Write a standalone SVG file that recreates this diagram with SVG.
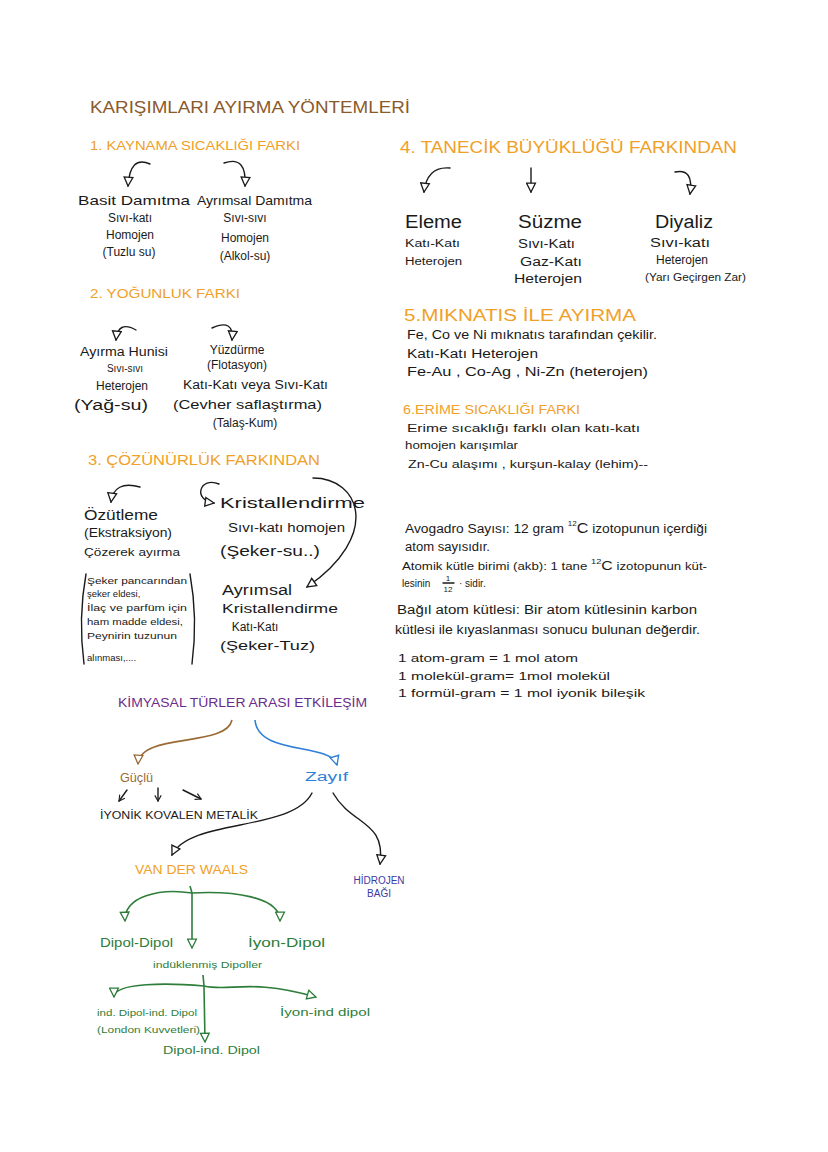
<svg xmlns="http://www.w3.org/2000/svg" width="828" height="1152" viewBox="0 0 828 1152">
<style>
text{font-family:"Liberation Sans","DejaVu Sans",sans-serif;fill:#1a1a1a;}
.t{fill:#8B5A2B;font-size:17px;}
.h{fill:#F0A028;}
.k{font-size:12px;}
.s{font-size:10px;}
.p{fill:#6B2D8C;font-size:12px;}
.b{fill:#2F7FD8;}
.g{fill:#2E7D3A;}
.br{fill:#9A6A35;}
.hb{fill:#3B3BA0;}
.c{fill:none;stroke:#1a1a1a;stroke-width:1.4;stroke-linecap:round;}
.cb{fill:none;stroke:#9A6A35;stroke-width:1.6;}
.cu{fill:none;stroke:#2F7FD8;stroke-width:1.6;}
.cg{fill:none;stroke:#2E7D3A;stroke-width:1.6;}
</style>
<defs>
<marker id="mk" viewBox="0 0 10 10" refX="9" refY="5" markerWidth="11" markerHeight="11" markerUnits="userSpaceOnUse" orient="auto"><path d="M1,1 L9,5 L1,9 Z" fill="#fff" stroke="#1a1a1a" stroke-width="1.2"/></marker>
<marker id="mb" viewBox="0 0 10 10" refX="9" refY="5" markerWidth="11" markerHeight="11" markerUnits="userSpaceOnUse" orient="auto"><path d="M1,1 L9,5 L1,9 Z" fill="#fff" stroke="#9A6A35" stroke-width="1.2"/></marker>
<marker id="mu" viewBox="0 0 10 10" refX="9" refY="5" markerWidth="11" markerHeight="11" markerUnits="userSpaceOnUse" orient="auto"><path d="M1,1 L9,5 L1,9 Z" fill="#fff" stroke="#2F7FD8" stroke-width="1.2"/></marker>
<marker id="mg" viewBox="0 0 10 10" refX="9" refY="5" markerWidth="11" markerHeight="11" markerUnits="userSpaceOnUse" orient="auto"><path d="M1,1 L9,5 L1,9 Z" fill="#fff" stroke="#2E7D3A" stroke-width="1.2"/></marker>
<marker id="mv" viewBox="0 0 10 10" refX="9" refY="5" markerWidth="8" markerHeight="8" markerUnits="userSpaceOnUse" orient="auto"><path d="M2,1 L9,5 L2,9" fill="none" stroke="#1a1a1a" stroke-width="1.4"/></marker>
</defs>
<rect width="828" height="1152" fill="#fff"/>

<g id="title"><text class="t" x="90" y="113" textLength="320" lengthAdjust="spacingAndGlyphs">KARIŞIMLARI AYIRMA YÖNTEMLERİ</text></g>

<g id="sec1">
<text class="h" x="90" y="150" font-size="13" textLength="210" lengthAdjust="spacingAndGlyphs">1. KAYNAMA SICAKLIĞI FARKI</text>
<g id="basit"><text x="78" y="205" font-size="13" textLength="112" lengthAdjust="spacingAndGlyphs">Basit Damıtma</text>
<text class="k" x="130" y="222" text-anchor="middle">Sıvı-katı</text>
<text class="k" x="130" y="239" text-anchor="middle">Homojen</text>
<text class="k" x="129" y="256" text-anchor="middle">(Tuzlu su)</text></g>
<g id="ayrimsal-dam"><text x="197" y="205" font-size="13" textLength="115" lengthAdjust="spacingAndGlyphs">Ayrımsal Damıtma</text>
<text class="k" x="245" y="222" text-anchor="middle">Sıvı-sıvı</text>
<text class="k" x="245" y="242" text-anchor="middle">Homojen</text>
<text class="k" x="245" y="260" text-anchor="middle">(Alkol-su)</text></g>
</g>

<g id="sec2">
<text class="h" x="90" y="298" font-size="13" textLength="150" lengthAdjust="spacingAndGlyphs">2. YOĞUNLUK FARKI</text>
<g id="huni"><text class="k" x="80" y="356" textLength="88" lengthAdjust="spacingAndGlyphs">Ayırma Hunisi</text>
<text class="s" x="125" y="372" text-anchor="middle">Sıvı-sıvı</text>
<text class="k" x="122" y="390" text-anchor="middle">Heterojen</text>
<text x="74" y="410" font-size="14" textLength="74" lengthAdjust="spacingAndGlyphs">(Yağ-su)</text></g>
<g id="yuzdurme"><text class="k" x="237" y="354" text-anchor="middle">Yüzdürme</text>
<text class="k" x="237" y="369" text-anchor="middle">(Flotasyon)</text>
<text class="k" x="183" y="389" textLength="145" lengthAdjust="spacingAndGlyphs">Katı-Katı veya Sıvı-Katı</text>
<text x="173" y="409" font-size="13" textLength="149" lengthAdjust="spacingAndGlyphs">(Cevher saflaştırma)</text>
<text class="k" x="245" y="427" text-anchor="middle">(Talaş-Kum)</text></g>
</g>

<g id="sec3">
<text class="h" x="88" y="465" font-size="15" textLength="232" lengthAdjust="spacingAndGlyphs">3. ÇÖZÜNÜRLÜK FARKINDAN</text>
<g id="ozutleme"><text x="84" y="520" font-size="14" textLength="74" lengthAdjust="spacingAndGlyphs">Özütleme</text>
<text class="k" x="84" y="537" textLength="88" lengthAdjust="spacingAndGlyphs">(Ekstraksiyon)</text>
<text class="s" x="84" y="556" textLength="96" lengthAdjust="spacingAndGlyphs">Çözerek ayırma</text>
<path class="c" d="M86,574 Q78,618 84,664 M190,574 Q198,618 192,664" stroke-width="1.1"/>
<text font-size="9.5" x="87" y="584" textLength="100" lengthAdjust="spacingAndGlyphs">Şeker pancarından</text>
<text font-size="9.5" x="87" y="597">şeker eldesi,</text>
<text font-size="9.5" x="87" y="611" textLength="100" lengthAdjust="spacingAndGlyphs">İlaç ve parfüm için</text>
<text font-size="9.5" x="87" y="625" textLength="96" lengthAdjust="spacingAndGlyphs">ham madde eldesi,</text>
<text font-size="9.5" x="87" y="639" textLength="90" lengthAdjust="spacingAndGlyphs">Peynirin tuzunun</text>
<text font-size="9.5" x="87" y="661">alınması,....</text></g>
<g id="kristal"><text x="220" y="508" font-size="15" textLength="145" lengthAdjust="spacingAndGlyphs">Kristallendirme</text>
<text class="k" x="228" y="532" textLength="117" lengthAdjust="spacingAndGlyphs">Sıvı-katı homojen</text>
<text x="220" y="556" font-size="14" textLength="100" lengthAdjust="spacingAndGlyphs">(Şeker-su..)</text></g>
<g id="ayrimsal-kr"><text x="222" y="595" font-size="14" textLength="70" lengthAdjust="spacingAndGlyphs">Ayrımsal</text>
<text x="222" y="613" font-size="13" textLength="116" lengthAdjust="spacingAndGlyphs">Kristallendirme</text>
<text class="k" x="255" y="631" text-anchor="middle">Katı-Katı</text>
<text x="220" y="650" font-size="13" textLength="95" lengthAdjust="spacingAndGlyphs">(Şeker-Tuz)</text></g>
</g>

<g id="sec4">
<text class="h" x="400" y="153" font-size="16" textLength="337" lengthAdjust="spacingAndGlyphs">4. TANECİK BÜYÜKLÜĞÜ FARKINDAN</text>
<g id="eleme"><text x="405" y="228" font-size="18" textLength="57" lengthAdjust="spacingAndGlyphs">Eleme</text>
<text class="s" x="405" y="247" textLength="55" lengthAdjust="spacingAndGlyphs">Katı-Katı</text>
<text class="s" x="405" y="265" textLength="57" lengthAdjust="spacingAndGlyphs">Heterojen</text></g>
<g id="suzme"><text x="518" y="228" font-size="18" textLength="64" lengthAdjust="spacingAndGlyphs">Süzme</text>
<text class="k" x="518" y="248" textLength="57" lengthAdjust="spacingAndGlyphs">Sıvı-Katı</text>
<text class="k" x="520" y="266" textLength="62" lengthAdjust="spacingAndGlyphs">Gaz-Katı</text>
<text class="k" x="514" y="283" textLength="68" lengthAdjust="spacingAndGlyphs">Heterojen</text></g>
<g id="diyaliz"><text x="655" y="228" font-size="18" textLength="58" lengthAdjust="spacingAndGlyphs">Diyaliz</text>
<text class="k" x="650" y="247" textLength="60" lengthAdjust="spacingAndGlyphs">Sıvı-katı</text>
<text class="k" x="682" y="264" text-anchor="middle">Heterojen</text>
<text class="s" x="645" y="281" textLength="101" lengthAdjust="spacingAndGlyphs">(Yarı Geçirgen Zar)</text></g>
</g>

<g id="sec5">
<text class="h" x="404" y="321" font-size="16" textLength="232" lengthAdjust="spacingAndGlyphs">5.MIKNATIS İLE AYIRMA</text>
<text class="k" x="407" y="339" textLength="250" lengthAdjust="spacingAndGlyphs">Fe, Co ve Ni mıknatıs tarafından çekilir.</text>
<text class="k" x="407" y="358" textLength="131" lengthAdjust="spacingAndGlyphs">Katı-Katı  Heterojen</text>
<text x="407" y="376" font-size="13" textLength="241" lengthAdjust="spacingAndGlyphs">Fe-Au , Co-Ag , Ni-Zn (heterojen)</text>
</g>

<g id="sec6">
<text class="h" x="403" y="414" font-size="12" textLength="177" lengthAdjust="spacingAndGlyphs">6.ERİME SICAKLIĞI FARKI</text>
<text class="s" x="407" y="432" textLength="233" lengthAdjust="spacingAndGlyphs">Erime sıcaklığı farklı olan katı-katı</text>
<text class="s" x="405" y="449" textLength="113" lengthAdjust="spacingAndGlyphs">homojen karışımlar</text>
<text class="s" x="408" y="468" textLength="240" lengthAdjust="spacingAndGlyphs">Zn-Cu alaşımı , kurşun-kalay (lehim)--</text>
</g>

<g id="avogadro">
<text class="k" x="405" y="533" textLength="302" lengthAdjust="spacingAndGlyphs">Avogadro Sayısı: 12 gram <tspan font-size="7" dy="-7">12</tspan><tspan dy="7" font-size="14">C</tspan> izotopunun içerdiği</text>
<text class="k" x="405" y="551" textLength="85" lengthAdjust="spacingAndGlyphs">atom sayısıdır.</text>
<text class="s" x="402" y="570" textLength="305" lengthAdjust="spacingAndGlyphs">Atomik kütle birimi (akb): 1 tane <tspan font-size="7" dy="-6">12</tspan><tspan dy="6" font-size="12">C</tspan> izotopunun küt-</text>
<text class="s" x="402" y="587">lesinin</text>
<text font-size="8" x="448" y="581" text-anchor="middle">1</text>
<path class="c" d="M443,583 L454,583" stroke-width="1"/>
<text font-size="8" x="448" y="592" text-anchor="middle">12</text>
<text class="s" x="459" y="587">· sidir.</text>
<text class="k" x="397" y="614" textLength="300" lengthAdjust="spacingAndGlyphs">Bağıl atom kütlesi: Bir atom kütlesinin karbon</text>
<text class="k" x="395" y="634" textLength="305" lengthAdjust="spacingAndGlyphs">kütlesi ile kıyaslanması sonucu bulunan değerdir.</text>
<text class="s" x="398" y="662" textLength="180" lengthAdjust="spacingAndGlyphs">1 atom-gram = 1 mol atom</text>
<text class="s" x="398" y="680" textLength="212" lengthAdjust="spacingAndGlyphs">1 molekül-gram= 1mol molekül</text>
<text class="s" x="398" y="697" textLength="247" lengthAdjust="spacingAndGlyphs">1 formül-gram = 1 mol iyonik bileşik</text>
</g>

<g id="kimyasal"><text class="p" x="118" y="707" textLength="249" lengthAdjust="spacingAndGlyphs">KİMYASAL TÜRLER ARASI ETKİLEŞİM</text></g>
<g id="guclu"><text class="br" x="120" y="782" font-size="12" textLength="33" lengthAdjust="spacingAndGlyphs">Güçlü</text></g>
<g id="tipler"><text x="100" y="819" font-size="10" textLength="158" lengthAdjust="spacingAndGlyphs">İYONİK KOVALEN METALİK</text></g>
<g id="zayif"><text class="b" x="305" y="781" font-size="12" textLength="43" lengthAdjust="spacingAndGlyphs">Zayıf</text></g>
<g id="vdw"><text class="h" x="135" y="874" font-size="12" textLength="113" lengthAdjust="spacingAndGlyphs">VAN DER WAALS</text></g>
<g id="hidrojen"><text class="hb" x="379" y="884" font-size="10" text-anchor="middle">HİDROJEN</text>
<text class="hb" x="379" y="897" font-size="10" text-anchor="middle">BAĞI</text></g>
<g id="dipol-dipol"><text class="g" x="100" y="947" font-size="13" textLength="73" lengthAdjust="spacingAndGlyphs">Dipol-Dipol</text></g>
<g id="iyon-dipol"><text class="g" x="248" y="947" font-size="13" textLength="77" lengthAdjust="spacingAndGlyphs">İyon-Dipol</text></g>
<g id="induklenmis"><text class="g" x="153" y="968" font-size="9" textLength="109" lengthAdjust="spacingAndGlyphs">indüklenmiş Dipoller</text></g>
<g id="london"><text class="g" x="97" y="1016" font-size="9" textLength="100" lengthAdjust="spacingAndGlyphs">ind. Dipol-ind. Dipol</text>
<text class="g" x="97" y="1033" font-size="9" textLength="103" lengthAdjust="spacingAndGlyphs">(London Kuvvetleri)</text></g>
<g id="iyon-ind"><text class="g" x="280" y="1016" font-size="11" textLength="90" lengthAdjust="spacingAndGlyphs">İyon-ind dipol</text></g>
<g id="dipol-ind"><text class="g" x="163" y="1054" font-size="10" textLength="97" lengthAdjust="spacingAndGlyphs">Dipol-ind. Dipol</text></g>

<g id="connectors">
<path class="c" d="M150,164 Q130,155 128,186" marker-end="url(#mk)"/>
<path class="c" d="M224,163 Q247,155 245,186" marker-end="url(#mk)"/>
<path class="c" d="M136,330 Q118,320 116,340" marker-end="url(#mk)"/>
<path class="c" d="M212,328 Q234,318 232,340" marker-end="url(#mk)"/>
<path class="c" d="M140,487 Q114,480 111,502" marker-end="url(#mk)"/>
<path class="c" d="M219,484 C200,476 192,500 214,503" marker-end="url(#mk)"/>
<path class="c" d="M313,478 C360,478 382,535 307,587" marker-end="url(#mk)"/>
<path class="c" d="M450,168 Q427,166 424,192" marker-end="url(#mk)"/>
<path class="c" d="M531,168 L531,192" marker-end="url(#mk)"/>
<path class="c" d="M675,172 Q694,168 690,194" marker-end="url(#mk)"/>
<path class="cb" d="M232,720 C226,748 140,732 138,764" marker-end="url(#mb)"/>
<path class="cu" d="M255,720 C258,756 330,742 337,765" marker-end="url(#mu)"/>
<path class="c" d="M127,790 L119,801" marker-end="url(#mv)"/>
<path class="c" d="M158,788 L158,801" marker-end="url(#mv)"/>
<path class="c" d="M183,790 L201,799" marker-end="url(#mv)"/>
<path class="c" d="M312,793 C292,832 190,818 172,855" marker-end="url(#mk)"/>
<path class="c" d="M333,793 C352,826 386,820 380,864" marker-end="url(#mk)"/>
<path class="cg" d="M190,886 L192,893 M192,893 C160,888 124,896 125,921" marker-end="url(#mg)"/>
<path class="cg" d="M192,893 C232,891 280,896 280,921" marker-end="url(#mg)"/>
<path class="cg" d="M192,893 L192,948" marker-end="url(#mg)"/>
<path class="cg" d="M203,975 L204,986 M204,986 C170,983 114,982 114,997" marker-end="url(#mg)"/>
<path class="cg" d="M204,986 C230,992 250,978 316,997" marker-end="url(#mg)"/>
<path class="cg" d="M204,986 L205,1042" marker-end="url(#mg)"/>
</g>
</svg>
